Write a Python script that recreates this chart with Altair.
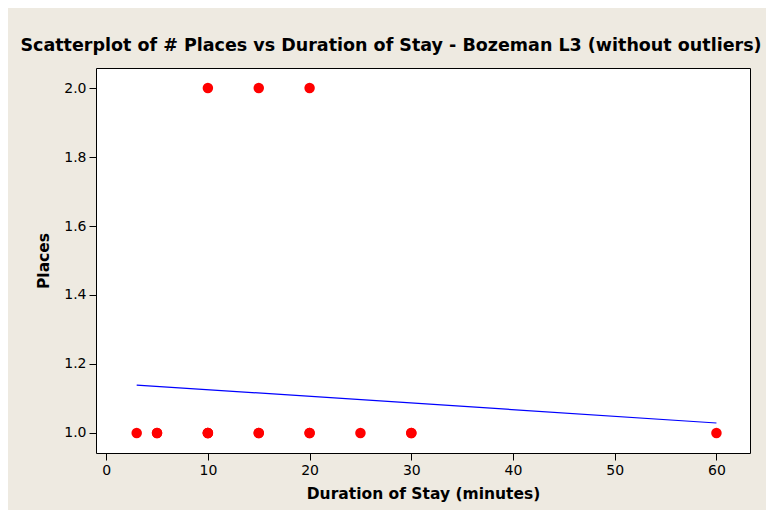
import altair as alt
import pandas as pd

# Observed data (duration in minutes, number of places)
duration = [3, 5, 5, 10, 10, 10, 15, 15, 20, 20, 25, 30, 30, 60, 10, 15, 20]
places = [1, 1, 1, 1, 1, 1, 1, 1, 1, 1, 1, 1, 1, 1, 2, 2, 2]

# Fitted regression line endpoints
fit_x = [3, 60]
fit_y = [1.139, 1.029]

x_ticks = [0, 10, 20, 30, 40, 50, 60]
y_ticks = [1.0, 1.2, 1.4, 1.6, 1.8, 2.0]

pts = pd.DataFrame({"duration": duration, "places": places})
fit = pd.DataFrame({"duration": fit_x, "places": fit_y})

xscale = alt.Scale(domain=[-1, 63.3], nice=False, zero=False)
yscale = alt.Scale(domain=[0.942, 2.058], nice=False, zero=False)

xaxis = alt.Axis(values=x_ticks, title="Duration of Stay (minutes)", grid=False, domain=False,
                 tickSize=7, tickColor="black", labelPadding=3, titlePadding=9,
                 labelFont="DejaVu Sans", labelFontSize=14, labelColor="black",
                 titleFont="DejaVu Sans", titleFontSize=15.5, titleFontWeight="bold", titleColor="black")
yaxis = alt.Axis(values=y_ticks, format=".1f", title="Places", grid=False, domain=False,
                 tickSize=7, tickColor="black", labelPadding=3, titlePadding=12,
                 labelFont="DejaVu Sans", labelFontSize=14, labelColor="black",
                 titleFont="DejaVu Sans", titleFontSize=15.5, titleFontWeight="bold", titleColor="black")

points = alt.Chart(pts).mark_circle(size=110, color="#FF0000", opacity=1).encode(
    x=alt.X("duration:Q", scale=xscale, axis=xaxis),
    y=alt.Y("places:Q", scale=yscale, axis=yaxis),
)

line = alt.Chart(fit).mark_line(color="#0000FF", strokeWidth=1.2).encode(
    x=alt.X("duration:Q", scale=xscale),
    y=alt.Y("places:Q", scale=yscale),
)

chart = alt.layer(line, points).properties(
    width=654,
    height=385,
    background="#EEEAE1",
    padding={"left": 88, "top": 60, "right": 16, "bottom": 57},
    autosize=alt.AutoSizeParams(type="none"),
    title=alt.TitleParams(
        "Scatterplot of # Places vs Duration of Stay - Bozeman L3 (without outliers)",
        font="DejaVu Sans", fontSize=17.5, fontWeight="bold", color="black",
        anchor="middle", dx=-32, offset=14,
    ),
).configure_view(
    fill="white", stroke="black", strokeWidth=1
)

chart.save("out.html", embed_options={"renderer": "svg", "actions": False})
